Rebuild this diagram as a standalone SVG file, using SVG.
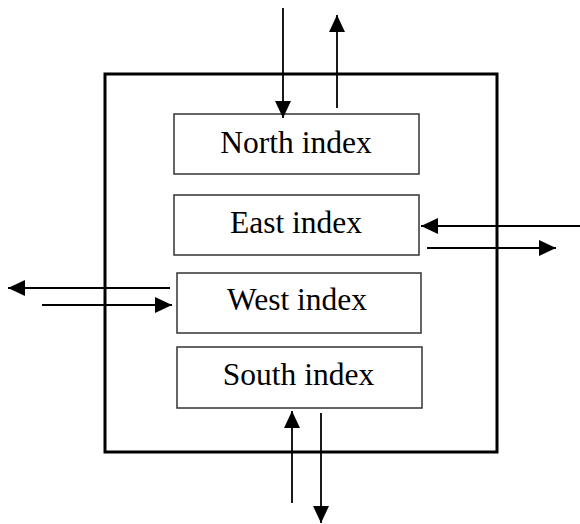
<svg xmlns="http://www.w3.org/2000/svg" width="580" height="524" viewBox="0 0 580 524">
  <style>
    .outer { fill: none; stroke: #000; stroke-width: 3; }
    .box { fill: #fff; stroke: #333; stroke-width: 1.5; }
    .label { font-family: "Liberation Serif", "Times New Roman", serif; font-size: 31.5px; fill: #000; text-anchor: middle; }
    .link { stroke: #000; stroke-width: 1.8; fill: none; marker-end: url(#head); }
  </style>
  <defs>
    <marker id="head" markerUnits="userSpaceOnUse" markerWidth="17" markerHeight="16" refX="17" refY="8" orient="auto">
      <path d="M0,0 L17,8 L0,16 z" fill="#000"/>
    </marker>
  </defs>
  <rect width="580" height="524" fill="#fff"/>

  <!-- enclosing frame -->
  <rect id="frame" class="outer" x="105" y="74" width="392" height="378"/>

  <g id="north">
    <rect class="box" x="174" y="114" width="245" height="60"/>
    <text class="label" x="296" y="153">North index</text>
  </g>
  <g id="east">
    <rect class="box" x="174" y="195" width="245" height="60"/>
    <text class="label" x="296" y="233">East index</text>
  </g>
  <g id="west">
    <rect class="box" x="177" y="273" width="244" height="60"/>
    <text class="label" x="297" y="310">West index</text>
  </g>
  <g id="south">
    <rect class="box" x="177" y="347" width="245" height="61"/>
    <text class="label" x="298.5" y="385">South index</text>
  </g>

  <g id="connectors">
    <line class="link" x1="283" y1="8" x2="283" y2="118"/>
    <line class="link" x1="337" y1="108" x2="337" y2="15"/>
    <line class="link" x1="580" y1="226" x2="421" y2="226"/>
    <line class="link" x1="427" y1="248" x2="556" y2="248"/>
    <line class="link" x1="170" y1="288" x2="8" y2="288"/>
    <line class="link" x1="42" y1="305" x2="172" y2="305"/>
    <line class="link" x1="292" y1="503" x2="292" y2="411"/>
    <line class="link" x1="321" y1="413" x2="321" y2="523"/>
  </g>
</svg>
